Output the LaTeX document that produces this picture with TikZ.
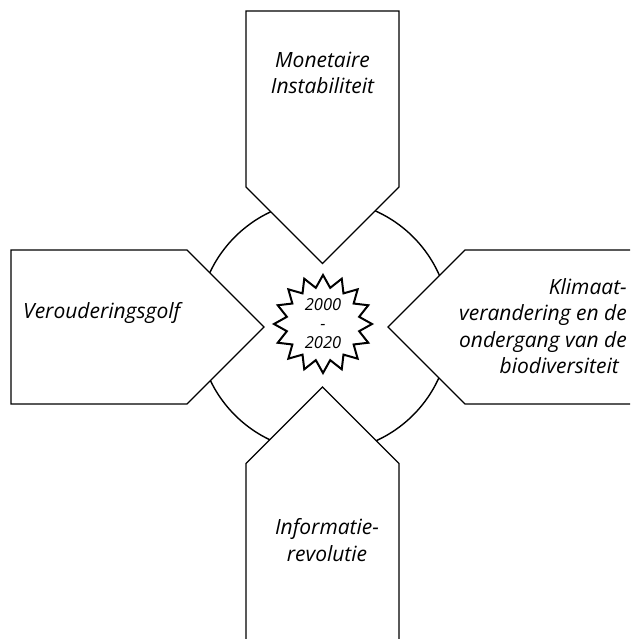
\documentclass[tikz,border=0pt]{standalone}
\usepackage{fontspec}
\setmainfont{Open Sans}
\usetikzlibrary{shapes.geometric}
\begin{document}
\begin{tikzpicture}[x=1pt,y=-1pt,
  arrowshape/.style={draw=black, fill=white, line width=1.4pt, line join=miter},
  ring/.style={draw=black, line width=1.4pt},
  lbl/.style={font=\fontsize{21}{26.5}\selectfont\itshape, inner sep=0pt},
  yrs/.style={font=\fontsize{16.5}{19}\selectfont\itshape, inner sep=0pt, align=center},
  burst/.style={star, star points=16, star point ratio=1.33, minimum size=98pt, inner sep=0pt, draw=black, fill=white, line width=2pt}]
\useasboundingbox (0,0) rectangle (630,639);
\clip (0,0) rectangle (630,639);
\coordinate (c) at (324,326);
\draw[ring] (c) circle[radius=126];
% top arrow
\draw[arrowshape] (246,11) -- (399,11) -- (399,187) -- (322.5,263.5) -- (246,187) -- cycle;
% bottom arrow
\draw[arrowshape] (246,650) -- (246,463.5) -- (322.5,387) -- (399,463.5) -- (399,650) -- cycle;
% left arrow
\draw[arrowshape] (11,250) -- (187,250) -- (264,327) -- (187,404) -- (11,404) -- cycle;
% right arrow
\draw[arrowshape] (650,250) -- (465,250) -- (388,327) -- (465,404) -- (650,404) -- cycle;
\node[burst] (star) at (323,324) {};
\node[yrs] (years) at (star.center) {2000\\-\\2020};
\node[lbl, align=center] (mon) at (322.5,73) {Monetaire\\Instabiliteit};
\node[lbl, anchor=base west] (ver) at (23,318) {Verouderingsgolf};
\node[lbl, align=right, anchor=east] (kli) at (627,326) {Klimaat-\\verandering en de\\ondergang van de\\biodiversiteit\kern8pt};
\node[lbl, align=center] (inf) at (327,540) {Informatie-\\revolutie};
\end{tikzpicture}
\end{document}
